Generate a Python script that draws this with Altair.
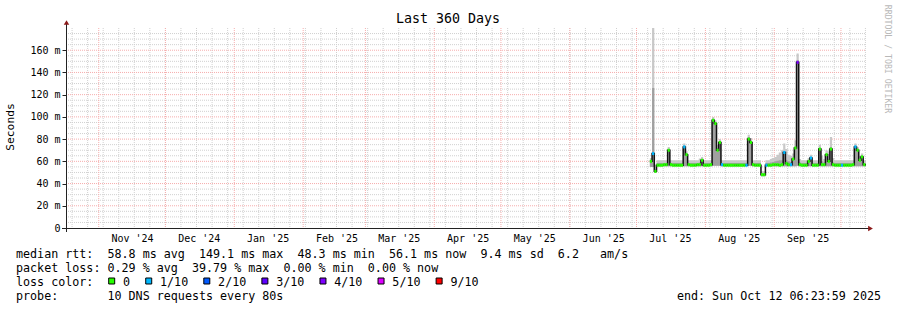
import altair as alt
import pandas as pd

# ---------------- data ----------------
end_iso = "2025-10-12T06:23:59Z"
first_day = "2025-07-07"

# daily median RTT in ms, Jul 7 .. Oct 11 2025
median_ms = [
    # Jul 7-31
    60, 67, 51, 56.5, 56.5, 56.5, 57, 57, 70, 57, 56.5, 56.5, 56.5, 56.5, 56.5, 73, 66, 57, 56.5, 56.5, 56.5, 57, 57, 61, 56.5,
    # Aug 1-31
    56.5, 56.5, 57, 97, 94, 70, 77, 57, 56.5, 56.5, 56.5, 56.5, 56.5, 56.5, 56.5, 56.5, 56.5, 56.5, 56.5, 80, 77, 57, 56.5, 56.5, 56.5, 48, 48, 56.5, 56.5, 56.5, 57,
    # Sep 1-30
    57, 57, 56.5, 57, 68, 58, 57, 57, 62, 72, 149.1, 57, 56.5, 56.5, 56.5, 60, 63, 56.5, 56.5, 56.5, 71, 57, 57, 66, 60, 71, 57, 56.5, 56.5, 56.5,
    # Oct 1-11
    56.5, 56.5, 56.5, 56.5, 56.5, 57, 73, 70, 61, 64, 57,
]
# packet loss in tenths (0 .. 10)
loss_tenths = [
    0, 1, 0, 0, 0, 0, 0, 0, 0, 0, 0, 0, 0, 0, 0, 1, 0, 0, 0, 0, 0, 0, 0, 0, 0,
    0, 0, 0, 0, 0, 0, 0, 1, 0, 0, 0, 0, 0, 0, 0, 0, 0, 0, 1, 0, 0, 0, 0, 0, 0, 0, 0, 1, 0, 0, 0,
    0, 0, 0, 0, 1, 0, 0, 1, 0, 0, 4, 0, 0, 0, 0, 0, 1, 0, 0, 0, 0, 0, 0, 0, 0, 0, 0, 0, 0, 0,
    1, 0, 0, 0, 0, 0, 1, 0, 0, 0, 0,
]
# smoke: lowest ping, inner (dense) band top, highest ping
smoke_lo = [
    55, 55, 49.5, 55.5, 55.5, 55.5, 55.5, 55.5, 55.5, 55.5, 55.5, 55.5, 55.5, 55.5, 55.5, 55.5, 55.5, 55.5, 55.5, 55.5, 55.5, 55.5, 55.5, 55.5, 55.5,
    55.5, 55.5, 55.5, 56, 56, 56, 56, 55.5, 55.5, 55.5, 55.5, 55.5, 55.5, 55.5, 55.5, 55.5, 55.5, 55.5, 55.5, 56, 56, 55.5, 55.5, 55.5, 55.5, 46.5, 46.5, 55.5, 55.5, 55.5, 55.5,
    55.5, 55.5, 55.5, 55.5, 55.5, 55.5, 55.5, 55.5, 55.5, 55.5, 56, 55.5, 55.5, 55.5, 55.5, 55.5, 55.5, 55.5, 55.5, 55.5, 55.5, 55.5, 55.5, 55.5, 55.5, 55.5, 55.5, 55.5, 55.5, 55.5,
    55.5, 55.5, 55.5, 55.5, 55.5, 55.5, 55.5, 55.5, 55.5, 55.5, 55.5,
]
smoke_mid = [
    61, 126, 53, 58.5, 58.5, 58.5, 58.5, 58.5, 71, 58.5, 58.5, 58.5, 58.5, 58.5, 58.5, 74, 67, 58.5, 58.5, 58.5, 58.5, 58.5, 59, 62, 58.5,
    58.5, 58.5, 58.5, 98, 95, 72, 78, 58.5, 58.5, 58.5, 58.5, 58.5, 58.5, 58.5, 58.5, 58.5, 58.5, 58.5, 58.5, 82, 78, 58.5, 58.5, 58.5, 58.5, 49, 49, 58.5, 58.5, 59, 59.5,
    60, 60.5, 61, 61, 69, 61, 60, 59.5, 63, 73, 151, 59, 58.5, 58.5, 58.5, 61, 63, 58.5, 58.5, 58.5, 72, 60, 59, 67, 62, 73, 59, 58.5, 58.5, 58.5,
    58.5, 58.5, 58.5, 58.5, 58.5, 58.5, 74, 71, 62, 65, 58.5,
]
smoke_hi = [
    63, 190, 57, 61, 61, 61, 61, 61, 73, 61, 61, 61, 61, 61, 61, 76, 69, 61, 61, 61, 61, 61, 62.5, 64, 61,
    61, 61, 61, 100, 97, 75, 80, 61, 61, 61, 61, 61, 61, 61, 61, 61, 61, 61, 61, 84, 81, 61, 61, 61, 61, 51, 51, 61, 61, 62, 63,
    64, 66, 68, 70, 76, 71, 66, 65, 67, 79, 157, 62, 61, 61, 61, 63, 66, 61, 61, 61, 75, 65, 62, 70, 69, 82, 63, 61, 61, 61,
    61, 61, 61, 61, 61, 61, 76, 73, 65, 67, 61,
]
assert len(median_ms) == len(loss_tenths) == len(smoke_lo) == len(smoke_mid) == len(smoke_hi) == 97

loss_codes = [0, 1, 2, 3, 4, 5, 9]
loss_labels = ["0", "1/10", "2/10", "3/10", "4/10", "5/10", "9/10"]
loss_colors = ["#26ff00", "#00b8ff", "#0059ff", "#5e00ff", "#7e00ff", "#dd00ff", "#ff0000"]

y_label_values = [0, 20, 40, 60, 80, 100, 120, 140, 160]
y_major_grid = [20, 40, 60, 80, 100, 120, 140, 160]
y_minor_grid = [5, 10, 15, 25, 30, 35, 45, 50, 55, 65, 70, 75, 85, 90, 95, 105, 110, 115,
                125, 130, 135, 145, 150, 155, 165, 170, 175]

title_text = "Last 360 Days"
y_title = "Seconds"
watermark = "RRDTOOL / TOBI OETIKER"
legend_lines = [
    "median rtt:  58.8 ms avg  149.1 ms max  48.3 ms min  56.1 ms now  9.4 ms sd  6.2   am/s",
    "packet loss: 0.29 % avg  39.79 % max  0.00 % min  0.00 % now",
    "loss color:",
    "probe:       10 DNS requests every 80s",
]
end_line = "end: Sun Oct 12 06:23:59 2025"

# ---------------- tables ----------------
end_ts = pd.Timestamp(end_iso)
start_ts = end_ts - pd.Timedelta(days=360)


def iso(t):
    return t.strftime("%Y-%m-%dT%H:%M:%SZ")


days = pd.date_range(first_day, periods=len(median_ms), freq="D", tz="UTC")
df = pd.DataFrame({
    "t": [iso(d) for d in days],
    "t2": [iso(min(d + pd.Timedelta(days=1), end_ts)) for d in days],
    "median": median_ms,
    "loss": loss_tenths,
    "lo": smoke_lo,
    "mid": smoke_mid,
    "hi": smoke_hi,
})
df_step = pd.concat([df, df.iloc[[-1]].assign(t=iso(end_ts))], ignore_index=True)

weeks = [iso(d) for d in pd.date_range("2024-10-20", "2025-10-12", freq="7D", tz="UTC") if d < end_ts]
months = [iso(d) for d in pd.date_range("2024-11-01", "2025-10-01", freq="MS", tz="UTC")]
label_dates = [d + pd.Timedelta(days=15) for d in pd.date_range("2024-11-01", "2025-09-01", freq="MS", tz="UTC")]


def dt(t):
    return alt.DateTime(year=t.year, month=t.month, date=t.day, hours=t.hour,
                        minutes=t.minute, seconds=t.second, utc=True)


FONT = "DejaVu Sans Mono"
W, H = 800, 200
LEFT, TOP = 66, 28
MINOR = "#d0d0d0"
MAJOR = "#f6adad"
AXIS = "#222222"

xs = alt.Scale(type="utc", domain=[dt(start_ts), dt(end_ts)])
ys = alt.Scale(domain=[0, 180], nice=False, zero=True)

x_axis = alt.Axis(
    values=[dt(d) for d in label_dates],
    labelExpr="utcFormat(datum.value, \"%b '%y\")",
    domain=False, ticks=False, grid=False, title=None,
    labelFont=FONT, labelFontSize=10, labelColor="#000000",
    labelPadding=5, labelOverlap=False, labelFlush=False)
y_axis = alt.Axis(
    values=y_label_values,
    labelExpr="datum.value == 0 ? '0' : datum.value + ' m'",
    domain=False, ticks=True, tickSize=4, tickColor=AXIS, grid=False, title=None,
    labelFont=FONT, labelFontSize=10, labelColor="#000000", labelPadding=2)


def X(field):
    return alt.X(field, scale=xs, axis=x_axis)


def Y(field):
    return alt.Y(field, scale=ys, axis=y_axis)


# ---------------- grid ----------------
g_week = alt.Chart(pd.DataFrame({"t": weeks})).mark_rule(
    color=MINOR, strokeDash=[1, 1], strokeWidth=1).encode(
    x=X("t:T"), y=alt.value(0), y2=alt.value(H))
g_ymin = alt.Chart(pd.DataFrame({"v": y_minor_grid})).mark_rule(
    color=MINOR, strokeDash=[1, 1], strokeWidth=1).encode(
    y=Y("v:Q"), x=alt.value(0), x2=alt.value(W))
g_month = alt.Chart(pd.DataFrame({"t": months})).mark_rule(
    color=MAJOR, strokeDash=[1, 1], strokeWidth=1).encode(
    x=X("t:T"), y=alt.value(0), y2=alt.value(H))
g_ymaj = alt.Chart(pd.DataFrame({"v": y_major_grid})).mark_rule(
    color=MAJOR, strokeDash=[1, 1], strokeWidth=1).encode(
    y=Y("v:Q"), x=alt.value(0), x2=alt.value(W))

# ---------------- smoke + median ----------------
smoke_outer = alt.Chart(df_step).mark_area(
    color="#c8c8c8", interpolate="step-after", clip=True).encode(
    x=X("t:T"), y=Y("lo:Q"), y2="hi:Q")
smoke_inner = alt.Chart(df_step).mark_area(
    color="#a0a0a0", interpolate="step-after", clip=True).encode(
    x=X("t:T"), y=Y("lo:Q"), y2="mid:Q")
median_line = alt.Chart(df_step).mark_line(
    color="#111111", strokeWidth=1.5, interpolate="step-after", clip=True).encode(
    x=X("t:T"), y=Y("median:Q"))
loss_marks = alt.Chart(df).mark_rule(strokeWidth=3, clip=True).encode(
    x=X("t:T"), x2="t2:T", y=Y("median:Q"),
    color=alt.Color("loss:O", scale=alt.Scale(domain=loss_codes, range=loss_colors), legend=None))

# ---------------- axes lines & arrows ----------------
one = pd.DataFrame({"a": [0]})
yaxis_line = alt.Chart(one).mark_rule(color=AXIS, strokeWidth=1).encode(
    x=alt.value(0.5), y=alt.value(-4), y2=alt.value(H + 4))
xaxis_line = alt.Chart(one).mark_rule(color=AXIS, strokeWidth=1).encode(
    x=alt.value(-4), x2=alt.value(W + 3), y=alt.value(H + 0.5))
arrow_up = alt.Chart(one).mark_point(shape="triangle-up", filled=True, size=30,
                                     color="#8b1a1a", opacity=1).encode(
    x=alt.value(0.5), y=alt.value(-5.5))
arrow_right = alt.Chart(one).mark_point(shape="triangle-right", filled=True, size=30,
                                        color="#8b1a1a", opacity=1).encode(
    x=alt.value(W + 4.5), y=alt.value(H + 0.5))


def text_layer(s, x, y, size=11.7, align="left", angle=0, color="#000000"):
    return alt.Chart(pd.DataFrame({"s": [s.replace(" ", "\u00a0")]})).mark_text(
        font=FONT, fontSize=size, align=align, baseline="middle", angle=angle,
        color=color).encode(text="s:N", x=alt.value(x), y=alt.value(y))


texts = [
    text_layer(title_text, 448 - LEFT, 19 - TOP, size=13.3, align="center"),
    text_layer(y_title, 11 - LEFT, 127 - TOP, size=11.3, align="center", angle=270),
    text_layer(watermark, 887 - LEFT, 59 - TOP, size=8.2, align="center", angle=90, color="#b8b8b8"),
    text_layer(end_line, 881 - LEFT, 296 - TOP, align="right"),
]
CH = 7.02
for i, line in enumerate(legend_lines):
    texts.append(text_layer(line, 16 - LEFT, 254 + 14 * i - TOP))

squares = []
lx = 123.0
for lab, col in zip(loss_labels, loss_colors):
    squares.append(alt.Chart(one).mark_square(size=36, color=col, filled=True, opacity=1,
                                              stroke="#000000", strokeWidth=1).encode(
        x=alt.value(lx - 11.3 - LEFT), y=alt.value(281 - TOP)))
    texts.append(text_layer(lab, lx - LEFT, 282 - TOP))
    lx += len(lab) * CH + 30

chart = alt.layer(
    g_week, g_ymin, g_month, g_ymaj,
    smoke_outer, smoke_inner, median_line, loss_marks,
    yaxis_line, xaxis_line, arrow_up, arrow_right,
    *squares, *texts,
).properties(
    width=W, height=H,
    padding={"left": LEFT, "top": TOP, "right": 897 - LEFT - W, "bottom": 310 - TOP - H},
    autosize=alt.AutoSizeParams(type="none"),
    background="white",
).configure_view(stroke=None)

chart.save("out.html", embed_options={"renderer": "svg", "actions": False})
